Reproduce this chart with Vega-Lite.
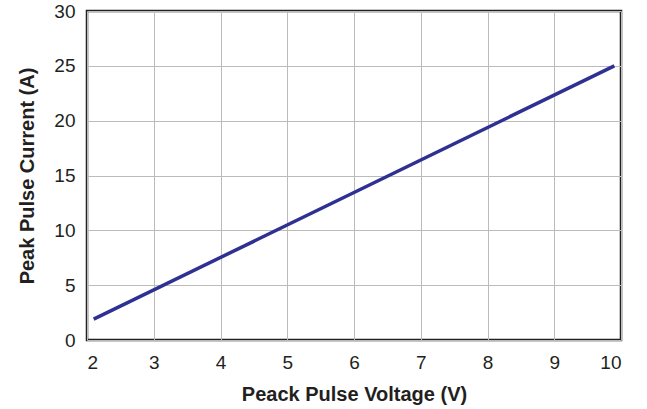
{
  "$schema": "https://vega.github.io/schema/vega-lite/v6.json",
  "autosize": "none",
  "width": 534,
  "height": 329,
  "padding": {"left": 87, "top": 11, "right": 26, "bottom": 69},
  "background": "white",
  "config": {
    "view": {"stroke": "#231f20", "strokeWidth": 2.5},
    "font": "Liberation Sans"
  },
  "data": {"values": [
    {"voltage": 2.1, "current": 1.9},
    {"voltage": 9.9, "current": 25.0}
  ]},
  "mark": {"type": "line", "color": "#2e3192", "strokeWidth": 3.5},
  "encoding": {
    "x": {
      "field": "voltage", "type": "quantitative",
      "scale": {"domain": [2, 10], "nice": false, "zero": false},
      "axis": {
        "title": "Peack Pulse Voltage (V)",
        "values": [2,3,4,5,6,7,8,9,10],
        "grid": true, "gridColor": "#bbbbbb", "gridWidth": 1,
        "domain": false, "ticks": false,
        "labelFontSize": 19, "labelColor": "#231f20", "labelPadding": 13,
        "titleFontSize": 20, "titleFontWeight": "bold", "titleColor": "#231f20", "titlePadding": 12
      }
    },
    "y": {
      "field": "current", "type": "quantitative",
      "scale": {"domain": [0, 30], "nice": false},
      "axis": {
        "title": "Peak Pulse Current (A)",
        "values": [0,5,10,15,20,25,30],
        "grid": true, "gridColor": "#bbbbbb", "gridWidth": 1,
        "domain": false, "ticks": false,
        "labelFontSize": 19, "labelColor": "#231f20", "labelPadding": 12,
        "titleFontSize": 20, "titleFontWeight": "bold", "titleColor": "#231f20", "titlePadding": 16
      }
    }
  }
}
